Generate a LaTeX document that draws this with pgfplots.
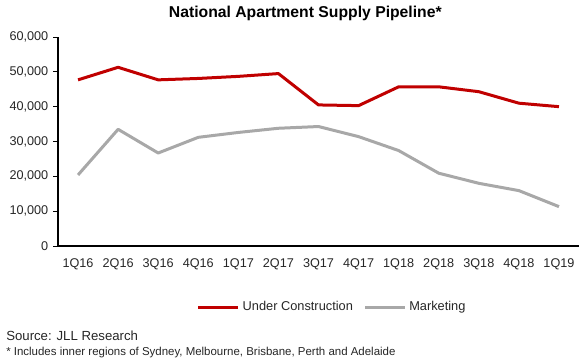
\documentclass[border=0pt]{standalone}
\usepackage{pgfplots}
\pgfplotsset{compat=1.18}
\usepackage{fontspec}
\setmainfont{Liberation Sans}
\definecolor{ucred}{HTML}{C00000}
\definecolor{mkgrey}{HTML}{A8A8A8}
\definecolor{txt}{HTML}{262626}
\begin{document}
\begin{tikzpicture}
\path[use as bounding box] (0pt,0pt) rectangle (435pt,270.75pt);
\begin{axis}[
  at={(43.5pt,86.25pt)}, anchor=south west,
  scale only axis,
  width=390.75pt, height=156.75pt,
  xmin=-0.5, xmax=12.5,
  ymin=0, ymax=60000,
  axis x line*=bottom, axis y line*=left,
  axis line style={black, line width=0.8pt},
  xtick={0,...,12},
  xticklabels={1Q16,2Q16,3Q16,4Q16,1Q17,2Q17,3Q17,4Q17,1Q18,2Q18,3Q18,4Q18,1Q19},
  xtick style={draw=none},
  ytick={0,10000,...,60000},
  tick align=outside,
  major tick length=3.75pt,
  ytick style={black, line width=0.6pt},
  scaled y ticks=false,
  yticklabel style={/pgf/number format/.cd, 1000 sep={,}, assume math mode=true},
  ticklabel style={font=\fontsize{9.5}{11}\selectfont, text=txt},
  xticklabel style={yshift=-2pt},
  legend style={at={(0.527,-0.292)}, anchor=center, draw=none, fill=none,
    font=\fontsize{9.6}{11}\selectfont, text=txt,
    /tikz/every even column/.append style={column sep=6pt}},
  legend columns=2,
  legend cell align=left,
  legend image code/.code={\draw[#1] (0pt,0pt) -- (30pt,0pt);},
]
\addplot[ucred, line width=2.25pt, line join=round] coordinates {
(0,47700) (1,51300) (2,47700) (3,48100) (4,48700) (5,49500)
(6,40500) (7,40300) (8,45700) (9,45700) (10,44300) (11,41000) (12,40000)};
\addlegendentry{Under Construction}
\addplot[mkgrey, line width=2.25pt, line join=round] coordinates {
(0,20400) (1,33500) (2,26700) (3,31200) (4,32600) (5,33800)
(6,34300) (7,31400) (8,27400) (9,20900) (10,18000) (11,15900) (12,11300)};
\addlegendentry{Marketing}
\end{axis}
\node[font=\fontsize{11.8}{13}\selectfont\bfseries, text=black] at (229pt,261pt) {National Apartment Supply Pipeline*};
\node[anchor=west, inner sep=0pt, font=\fontsize{9.9}{11}\selectfont, text=txt] at (4.5pt,19.1pt) {Source: JLL Research};
\node[anchor=west, inner sep=0pt, font=\fontsize{8.6}{10}\selectfont, text=txt] at (4.5pt,6.5pt) {* Includes inner regions of Sydney, Melbourne, Brisbane, Perth and Adelaide};
\end{tikzpicture}
\end{document}
